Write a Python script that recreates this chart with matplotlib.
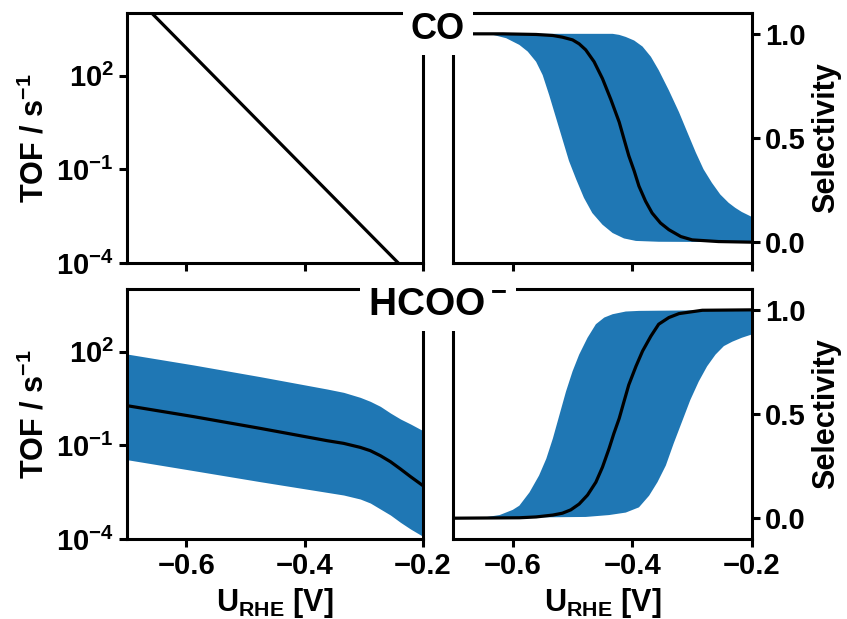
import numpy as np
import matplotlib.pyplot as plt

plt.rcParams['font.family'] = ['Liberation Sans', 'DejaVu Sans']
plt.rcParams['font.weight'] = 'bold'
plt.rcParams['mathtext.default'] = 'regular'
plt.rcParams['axes.linewidth'] = 2.2

# CO, TOF (log10)
co_tof_u = [-0.70, -0.20]
co_tof_log = [4.8, -4.8]

# CO, selectivity: mean and band edges
co_sel_u = [-0.700, -0.617, -0.561, -0.533, -0.517, -0.500, -0.489, -0.478, -0.464, -0.450,
            -0.436, -0.422, -0.414, -0.406, -0.397, -0.389, -0.378, -0.367, -0.353, -0.339,
            -0.319, -0.300, -0.256, -0.200]
co_sel = [1.0, 1.0, 0.997, 0.992, 0.984, 0.971, 0.952, 0.923, 0.866, 0.785,
          0.685, 0.576, 0.495, 0.415, 0.342, 0.269, 0.197, 0.140, 0.092, 0.060,
          0.027, 0.011, 0.003, 0.0]
co_hi_u = [-0.700, -0.433, -0.422, -0.411, -0.397, -0.383, -0.369, -0.356, -0.339, -0.322,
           -0.308, -0.294, -0.281, -0.267, -0.253, -0.239, -0.228, -0.217, -0.200]
co_hi = [1.0, 1.0, 0.995, 0.985, 0.968, 0.939, 0.890, 0.826, 0.729, 0.624,
         0.527, 0.431, 0.350, 0.285, 0.229, 0.189, 0.165, 0.145, 0.121]
co_lo_u = [-0.700, -0.656, -0.633, -0.611, -0.589, -0.575, -0.561, -0.550, -0.539, -0.528,
           -0.517, -0.506, -0.494, -0.481, -0.467, -0.450, -0.433, -0.414, -0.394, -0.356, -0.200]
co_lo = [1.0, 1.0, 0.995, 0.979, 0.947, 0.915, 0.866, 0.802, 0.705, 0.600,
         0.495, 0.390, 0.302, 0.213, 0.140, 0.084, 0.044, 0.018, 0.006, 0.002, 0.0]

# HCOO-, TOF (log10): mean and band edges
hc_tof_u = [-0.700, -0.587, -0.475, -0.362, -0.334, -0.306, -0.289, -0.272, -0.255, -0.238, -0.221, -0.200]
hc_tof = [0.267, -0.085, -0.459, -0.853, -0.939, -1.067, -1.173, -1.333, -1.525, -1.760, -2.005, -2.293]
hc_tof_hi = [1.920, 1.568, 1.195, 0.800, 0.693, 0.533, 0.405, 0.245, 0.032, -0.160, -0.320, -0.533]
hc_tof_lo = [-1.461, -1.813, -2.165, -2.507, -2.592, -2.720, -2.848, -3.040, -3.232, -3.467, -3.680, -3.915]

# HCOO-, selectivity: mean and band edges
hc_sel_u = [-0.700, -0.589, -0.561, -0.533, -0.517, -0.503, -0.489, -0.475, -0.461, -0.450,
            -0.439, -0.431, -0.422, -0.414, -0.406, -0.394, -0.383, -0.369, -0.356, -0.339,
            -0.322, -0.283, -0.200]
hc_sel = [0.0, 0.002, 0.006, 0.015, 0.024, 0.040, 0.068, 0.111, 0.173, 0.245,
          0.334, 0.406, 0.479, 0.560, 0.640, 0.729, 0.802, 0.874, 0.931, 0.963,
          0.982, 0.998, 1.0]
hc_hi_u = [-0.700, -0.656, -0.622, -0.600, -0.589, -0.572, -0.556, -0.544, -0.533, -0.522,
           -0.511, -0.500, -0.489, -0.475, -0.461, -0.447, -0.433, -0.411, -0.389, -0.200]
hc_hi = [0.0, 0.0, 0.015, 0.040, 0.060, 0.124, 0.205, 0.285, 0.382, 0.495,
         0.608, 0.705, 0.785, 0.866, 0.931, 0.963, 0.979, 0.992, 0.995, 1.0]
hc_lo_u = [-0.700, -0.478, -0.439, -0.411, -0.389, -0.372, -0.358, -0.344, -0.331, -0.317,
           -0.303, -0.289, -0.275, -0.261, -0.247, -0.233, -0.217, -0.200]
hc_lo = [0.0, 0.006, 0.015, 0.027, 0.052, 0.108, 0.173, 0.253, 0.358, 0.463,
         0.568, 0.656, 0.729, 0.785, 0.826, 0.847, 0.866, 0.882]

blue = '#1f77b4'
tick_fs = 21
label_fs = 22

fig = plt.figure(figsize=(8.47, 6.19), dpi=100)
ax_tl = fig.add_axes([0.1499, 0.5751, 0.3495, 0.4039])
ax_tr = fig.add_axes([0.5348, 0.5751, 0.3530, 0.4039])
ax_bl = fig.add_axes([0.1499, 0.1292, 0.3495, 0.4039])
ax_br = fig.add_axes([0.5348, 0.1292, 0.3530, 0.4039])

# TOF panels
ax_tl.plot(co_tof_u, 10 ** np.array(co_tof_log), color='k', lw=2.3)
ax_bl.fill_between(hc_tof_u, 10 ** np.array(hc_tof_lo), 10 ** np.array(hc_tof_hi), color=blue, lw=0)
ax_bl.plot(hc_tof_u, 10 ** np.array(hc_tof), color='k', lw=2.3)

for ax in (ax_tl, ax_bl):
    ax.set_yscale('log')
    ax.set_ylim(1e-4, 1e4)
    ax.set_yticks([1e-4, 1e-1, 1e2])
    ax.yaxis.set_minor_locator(plt.NullLocator())
    ax.set_ylabel('TOF / s$^{-1}$', fontsize=label_fs, fontweight='bold')

# selectivity panels
ax_tr.fill(np.concatenate([co_hi_u, co_lo_u[::-1]]), np.concatenate([co_hi, co_lo[::-1]]), color=blue, lw=0)
ax_tr.plot(co_sel_u, co_sel, color='k', lw=2.3)
ax_br.fill(np.concatenate([hc_hi_u, hc_lo_u[::-1]]), np.concatenate([hc_hi, hc_lo[::-1]]), color=blue, lw=0)
ax_br.plot(hc_sel_u, hc_sel, color='k', lw=2.3)

for ax in (ax_tr, ax_br):
    ax.set_ylim(-0.1, 1.1)
    ax.set_yticks([0.0, 0.5, 1.0])
    ax.yaxis.tick_right()
    ax.yaxis.set_label_position('right')
    ax.set_ylabel('Selectivity', fontsize=label_fs, fontweight='bold')

for ax in (ax_tl, ax_tr, ax_bl, ax_br):
    ax.set_xlim(-0.7, -0.2)
    ax.set_xticks([-0.6, -0.4, -0.2])
    ax.tick_params(labelsize=tick_fs, width=2.2, length=6)

for ax in (ax_tl, ax_tr):
    ax.tick_params(labelbottom=False)
for ax in (ax_bl, ax_br):
    ax.set_xlabel('U$_{RHE}$ [V]', fontsize=label_fs, fontweight='bold')

box = dict(facecolor='white', edgecolor='none', pad=6)
fig.text(0.517, 0.953, 'CO', fontsize=26, fontweight='bold', ha='center', va='center', bbox=box)
fig.text(0.517, 0.507, 'HCOO$^-$', fontsize=28, fontweight='bold', ha='center', va='center', bbox=box)

fig.savefig('out.png', dpi=100)
